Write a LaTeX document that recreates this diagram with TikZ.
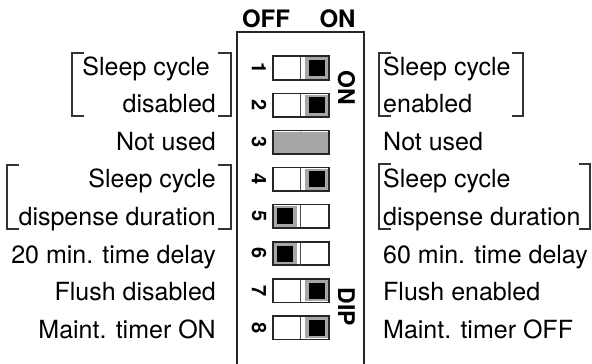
\documentclass[tikz,border=0pt]{standalone}
\usepackage{fontspec}
\setmainfont{TeX Gyre Heros}
\begin{document}
\begin{tikzpicture}[x=1pt,y=-1pt,
  lbl/.style={font=\fontsize{25}{30}\selectfont, inner sep=0pt},
  hdr/.style={font=\bfseries\fontsize{24}{28}\selectfont, inner sep=0pt},
  vlbl/.style={font=\bfseries\fontsize{23}{28}\selectfont, inner sep=0pt, rotate=-90},
  num/.style={font=\bfseries\fontsize{20}{24}\selectfont, inner sep=0pt, rotate=-90},
  swbox/.style={draw=black!85, line width=1.1pt, fill=white, minimum width=56pt, minimum height=23pt, inner sep=0pt},
  brk/.style={draw=black!80, line width=1.1pt},
  knobgrey/.style={fill=black!35},
]
\useasboundingbox (0,0) rectangle (592,364);
% housing
\draw[black!85, line width=1.3pt] (237,366) -- (237,32) -- (364,32) -- (364,366);
\node[hdr] (off) at (266,18.5) {OFF};
\node[hdr] (on) at (337.5,18.5) {ON};
\node[vlbl] (vON) at (346.5,87.5) {ON};
\node[vlbl] (vDIP) at (346.5,307) {DIP};
% switches: row / grey left / grey right / black left / black right / divider colour
\foreach \i/\ga/\gb/\ba/\bb/\dc in {1/305/328/309/325/black!70, 2/305/328/309/325/black!70, 3/274/328/300/300/black!35,
  4/305/328/309/325/black!70, 5/274/297/277/293/black!70, 6/274/297/277/293/black!70, 7/305/328/309/325/black!70, 8/305/328/309/325/black!70} {
  \pgfmathsetmacro\yc{68+37.1*(\i-1)}
  \node[swbox] (sw\i) at (301,\yc) {};
  \fill[knobgrey] (\ga,\yc-10.6) rectangle (\gb,\yc+10.6);
  \fill[black] (\ba,\yc-8) rectangle (\bb,\yc+8);
  \draw[\dc, line width=0.7pt] (300,\yc-11) -- (300,\yc+11);
  \draw[black!85, line width=1.1pt] (sw\i.north west) rectangle (sw\i.south east);
  \node[num] (n\i) at (259,\yc) {\i};
}
% left labels
\node[lbl, anchor=base east] (l1) at (210,75) {Sleep cycle};
\node[lbl, anchor=base east] (l2) at (216,112.6) {disabled};
\node[lbl, anchor=base east] (l3) at (216,150.2) {Not used};
\node[lbl, anchor=base east] (l4) at (216,187.8) {Sleep cycle};
\node[lbl, anchor=base east] (l5) at (216,225.4) {dispense duration};
\node[lbl, anchor=base east] (l6) at (216,263) {20 min. time delay};
\node[lbl, anchor=base east] (l7) at (216,300.6) {Flush disabled};
\node[lbl, anchor=base east] (l8) at (216,338.2) {Maint. timer ON};
% right labels
\node[lbl, anchor=base west] (r1) at (383,75) {Sleep cycle};
\node[lbl, anchor=base west] (r2) at (383,112.6) {enabled};
\node[lbl, anchor=base west] (r3) at (383,150.2) {Not used};
\node[lbl, anchor=base west] (r4) at (383,187.8) {Sleep cycle};
\node[lbl, anchor=base west] (r5) at (383,225.4) {dispense duration};
\node[lbl, anchor=base west] (r6) at (383,263) {60 min. time delay};
\node[lbl, anchor=base west] (r7) at (383,300.6) {Flush enabled};
\node[lbl, anchor=base west] (r8) at (383,338.2) {Maint. timer OFF};
% brackets
\draw[brk] (84,53) -- (72,53) -- (72,116) -- (84,116);
\draw[brk] (218,53) -- (231,53) -- (231,116) -- (218,116);
\draw[brk] (19,165) -- (7,165) -- (7,229) -- (19,229);
\draw[brk] (218,165) -- (231,165) -- (231,229) -- (218,229);
\draw[brk] (391,53) -- (379,53) -- (379,116) -- (391,116);
\draw[brk] (512,53) -- (523,53) -- (523,116) -- (512,116);
\draw[brk] (391,164) -- (379,164) -- (379,229) -- (391,229);
\draw[brk] (579,164) -- (590,164) -- (590,229) -- (579,229);
\end{tikzpicture}
\end{document}
